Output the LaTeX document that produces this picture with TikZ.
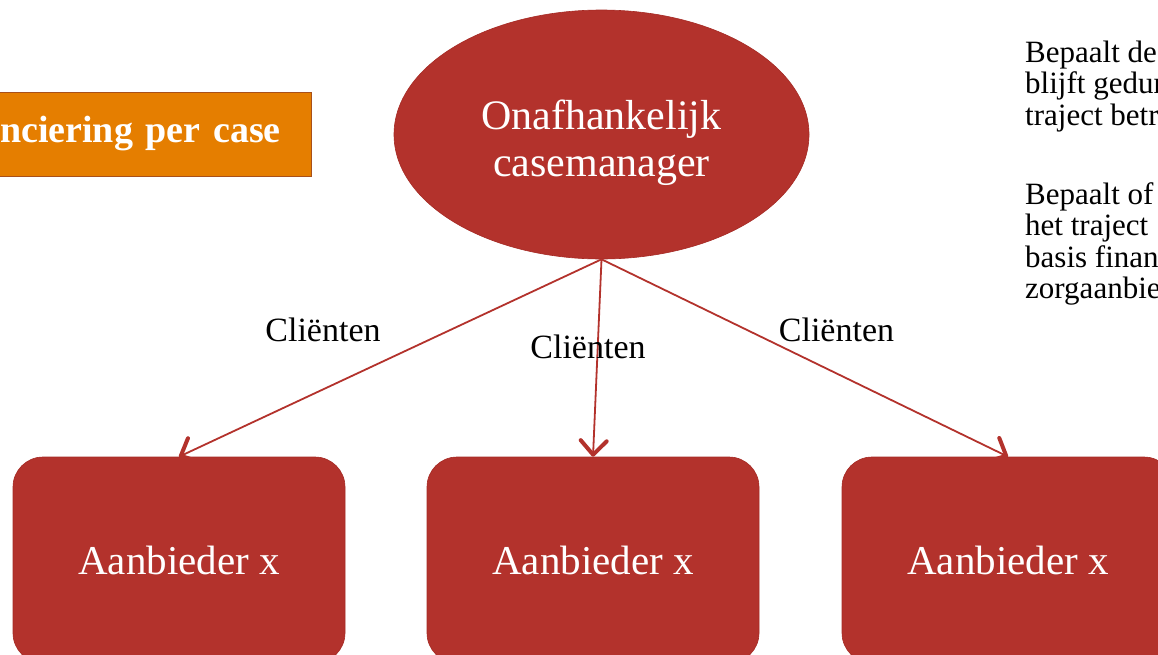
\documentclass[tikz,border=0pt]{standalone}
\usepackage{fontspec}
\setmainfont{Liberation Serif}
\usetikzlibrary{shapes.geometric,arrows.meta}
\definecolor{cmred}{HTML}{B3322C}
\definecolor{cmredline}{HTML}{A52A24}
\definecolor{cmorange}{HTML}{E57E00}
\definecolor{cmorangeline}{HTML}{A8501A}
\tikzset{
  ovaltext/.style={font=\fontsize{42}{47}\selectfont, text=white, align=center, inner sep=0pt},
  ovalnode/.style={ellipse, fill=cmred, draw=cmredline, line width=0.6pt, minimum width=415pt, minimum height=249pt, inner sep=0pt},
  providerbox/.style={rectangle, rounded corners=30pt, fill=cmred, draw=cmredline, line width=0.6pt, minimum width=332pt, minimum height=206pt, inner sep=0pt, font=\fontsize{41}{47}\selectfont, text=white},
  fundbox/.style={rectangle, fill=cmorange, draw=cmorangeline, line width=0.6pt, minimum height=84pt, text width=440pt, align=right, inner xsep=31pt, inner ysep=0pt, font=\bfseries\fontsize{38}{40}\selectfont, text=white},
  flow/.style={draw=cmred, line width=1.8pt, -{Straight Barb[length=14pt,width=26pt,line width=4pt,round]}},
  flowlabel/.style={font=\fontsize{34}{40}\selectfont, text=black, inner sep=0pt},
  sidetext/.style={font=\fontsize{31}{31.5}\selectfont, text=black, anchor=base west, inner sep=0pt}
}
\begin{document}
\begin{tikzpicture}[x=1pt,y=-1pt]
\useasboundingbox (0,0) rectangle (1158,654);
% funding box (partly off page)
\node[fundbox, anchor=east] (fund) at (312,134) {Financiering per case};
% central oval
\node[ovalnode, label={[ovaltext, yshift=-8pt]center:{Onafhankelijk\\casemanager}}] (cm) at (601.5,134.5) {};
% provider boxes
\node[providerbox] (b1) at (179,560) {Aanbieder x};
\node[providerbox] (b2) at (593,560) {Aanbieder x};
\node[providerbox] (b3) at (1008,560) {Aanbieder x};
% connectors
\draw[flow] (cm.south) -- (b1.north);
\draw[flow] (cm.south) -- (b2.north);
\draw[flow] (cm.south) -- (b3.north);
% labels
\node[flowlabel] (l1) at (323,330) {Cliënten};
\node[flowlabel] (l2) at (588,347) {Cliënten};
\node[flowlabel] (l3) at (836.5,330) {Cliënten};
% right-hand text (cut off by page edge)
\node[sidetext] (r1) at (1025,62) {Bepaalt de};
\node[sidetext] (r2) at (1025,93.5) {blijft gedurende};
\node[sidetext] (r3) at (1025,125) {traject betrokken};
\node[sidetext] (r4) at (1025,204) {Bepaalt of};
\node[sidetext] (r5) at (1025,235.5) {het traject};
\node[sidetext] (r6) at (1025,267) {basis financiering};
\node[sidetext] (r7) at (1025,298.5) {zorgaanbieder};
\end{tikzpicture}
\end{document}
